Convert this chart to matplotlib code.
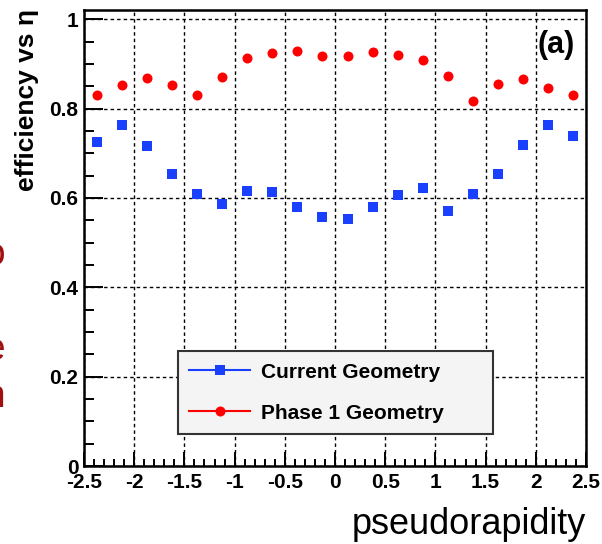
import matplotlib
matplotlib.use("Agg")
import matplotlib.pyplot as plt
from matplotlib.lines import Line2D
from matplotlib.ticker import MultipleLocator, FixedLocator, FixedFormatter

plt.rcParams['font.family'] = ['Liberation Sans', 'DejaVu Sans']
plt.rcParams['axes.unicode_minus'] = False

# ---- data ----
eta = [-2.375, -2.125, -1.875, -1.625, -1.375, -1.125, -0.875, -0.625, -0.375, -0.125,
       0.125, 0.375, 0.625, 0.875, 1.125, 1.375, 1.625, 1.875, 2.125, 2.375]
current_geom = [0.726, 0.764, 0.716, 0.654, 0.610, 0.587, 0.616, 0.613, 0.579, 0.558,
                0.552, 0.579, 0.607, 0.623, 0.571, 0.610, 0.654, 0.718, 0.764, 0.739]
phase1_geom = [0.830, 0.852, 0.869, 0.852, 0.830, 0.871, 0.914, 0.924, 0.929, 0.919,
               0.917, 0.927, 0.920, 0.910, 0.873, 0.818, 0.856, 0.866, 0.846, 0.831]
series_labels = ["Current Geometry", "Phase 1 Geometry"]
xticks = [-2.5, -2, -1.5, -1, -0.5, 0, 0.5, 1, 1.5, 2, 2.5]
xtick_labels = ["-2.5", "-2", "-1.5", "-1", "-0.5", "0", "0.5", "1", "1.5", "2", "2.5"]
yticks = [0, 0.2, 0.4, 0.6, 0.8, 1.0]
ytick_labels = ["0", "0.2", "0.4", "0.6", "0.8", "1"]

W, H = 602, 544
fig = plt.figure(figsize=(W / 100, H / 100), dpi=100)
L, R, T, B = 84, 586, 9.5, 466
ax = fig.add_axes([L / W, (H - B) / H, (R - L) / W, (B - T) / H])

blue = '#1a40ff'
red = '#ff0000'

ax.plot(eta, current_geom, linestyle='none', marker='s', markersize=7,
        color=blue, markeredgewidth=0, zorder=3)
ax.plot(eta, phase1_geom, linestyle='none', marker='o', markersize=7.2,
        color=red, markeredgewidth=0, zorder=3)

ax.set_xlim(-2.5, 2.5)
ax.set_ylim(0, 1.022)

ax.xaxis.set_major_locator(FixedLocator(xticks))
ax.xaxis.set_major_formatter(FixedFormatter(xtick_labels))
ax.xaxis.set_minor_locator(MultipleLocator(0.1))
ax.yaxis.set_major_locator(FixedLocator(yticks))
ax.yaxis.set_major_formatter(FixedFormatter(ytick_labels))
ax.yaxis.set_minor_locator(MultipleLocator(0.05))

ax.grid(True, which='major', color='black', linestyle=(0, (2.5, 2.2)), linewidth=1.0)
ax.set_axisbelow(True)

ax.tick_params(axis='both', which='both', direction='in', top=False, right=False,
               width=1.4, color='black')
ax.tick_params(axis='y', which='major', length=14, pad=4)
ax.tick_params(axis='y', which='minor', length=7.5)
ax.tick_params(axis='x', which='major', length=10, pad=5)
ax.tick_params(axis='x', which='minor', length=5)
for lab in ax.get_xticklabels() + ax.get_yticklabels():
    lab.set_fontsize(15)
    lab.set_fontweight('bold')

for s in ax.spines.values():
    s.set_linewidth(1.8)
    s.set_color('black')

ax.text(0.977, 0.955, "(a)", transform=ax.transAxes, ha='right', va='top',
        fontsize=22, fontweight='bold')

handles = [Line2D([], [], color=blue, marker='s', markersize=7, linewidth=1.5,
                  markeredgewidth=0),
           Line2D([], [], color=red, marker='o', markersize=7.2, linewidth=1.5,
                  markeredgewidth=0)]
lx0 = (178 - L) / (R - L)
lx1 = (492.5 - L) / (R - L)
ly0 = (B - 434) / (B - T)
leg = ax.legend(handles, series_labels, loc='lower left',
                bbox_to_anchor=(lx0, ly0, lx1 - lx0, 0.2), mode='expand',
                borderaxespad=0, fancybox=False, framealpha=1,
                prop={'weight': 'bold', 'size': 15},
                handlelength=2.9, handletextpad=0.55, labelspacing=1.05,
                borderpad=0.55, numpoints=1)
leg.get_frame().set_facecolor('#f3f4f3')
leg.get_frame().set_edgecolor('#333333')
leg.get_frame().set_linewidth(1.5)
leg.set_zorder(5)

fig.text(27 / W, 1 - 9 / H, "efficiency vs η", rotation=90, ha='center', va='top',
         fontsize=19, fontweight='bold')
fig.text(R / W, 1 - 524 / H, "pseudorapidity", ha='right', va='center', fontsize=26)

# clipped red text fragments at the left edge of the source slide
for ch, yc in [("o", 255), ("e", 350), ("n", 397)]:
    fig.text(5 / W, 1 - yc / H, ch, ha='right', va='center', fontsize=28,
             color='#a01010')

fig.savefig("out.png", dpi=100)
